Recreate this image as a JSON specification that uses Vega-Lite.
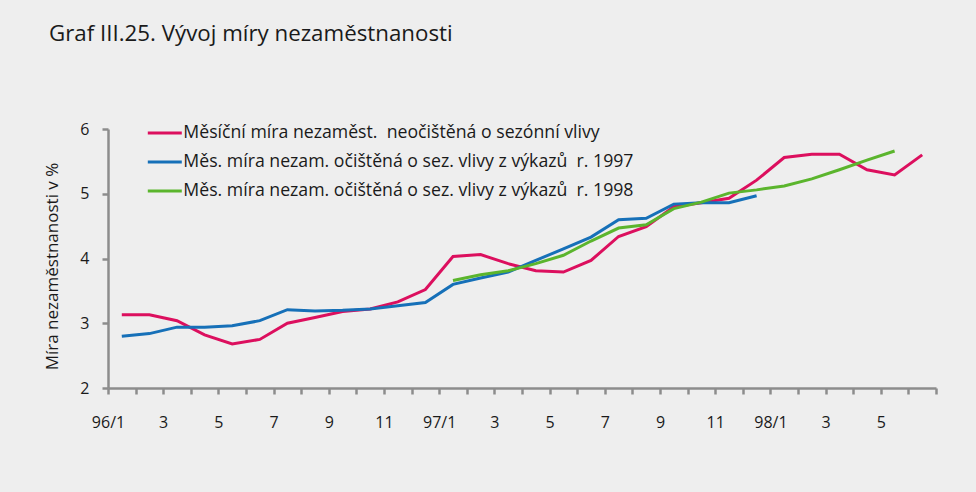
{
  "$schema": "https://vega.github.io/schema/vega-lite/v6.json",
  "autosize": {"type": "none"},
  "width": 828,
  "height": 259,
  "padding": {"left": 108, "top": 129, "right": 40, "bottom": 104},
  "background": "#eeeeee",
  "title": {
    "text": "Graf III.25. Vývoj míry nezaměstnanosti",
    "anchor": "start",
    "frame": "group",
    "dx": -59,
    "offset": 76,
    "font": "Open Sans",
    "fontSize": 22.3,
    "fontWeight": "normal",
    "color": "#1a1a1a"
  },
  "config": {
    "view": {"stroke": null},
    "font": "Open Sans",
    "axis": {
      "domainColor": "#8c8c8c",
      "domainWidth": 2.5,
      "tickColor": "#8c8c8c",
      "tickWidth": 2.5,
      "tickSize": 6,
      "ticks": true,
      "grid": false,
      "labelFont": "Open Sans",
      "labelFontSize": 16,
      "labelColor": "#1a1a1a",
      "titleFont": "Open Sans",
      "titleFontSize": 17,
      "titleFontWeight": "normal",
      "titleColor": "#1a1a1a"
    },
    "legend": {
      "orient": "none",
      "legendX": 46.8,
      "legendY": -6,
      "symbolType": "M-2,0H2",
      "symbolSize": 289,
      "symbolStrokeWidth": 3,
      "labelOffset": 8.5,
      "labelFont": "Open Sans",
      "labelFontSize": 17.7,
      "labelColor": "#1a1a1a",
      "labelLimit": 0,
      "rowPadding": 10,
      "padding": 0
    }
  },
  "data": {
    "values": [
      {"month": "96/1", "series": "Měsíční míra nezaměst.\u00a0 neočištěná o sezónní vlivy", "value": 3.13},
      {"month": "96/2", "series": "Měsíční míra nezaměst.\u00a0 neočištěná o sezónní vlivy", "value": 3.13},
      {"month": "96/3", "series": "Měsíční míra nezaměst.\u00a0 neočištěná o sezónní vlivy", "value": 3.04},
      {"month": "96/4", "series": "Měsíční míra nezaměst.\u00a0 neočištěná o sezónní vlivy", "value": 2.82},
      {"month": "96/5", "series": "Měsíční míra nezaměst.\u00a0 neočištěná o sezónní vlivy", "value": 2.68},
      {"month": "96/6", "series": "Měsíční míra nezaměst.\u00a0 neočištěná o sezónní vlivy", "value": 2.75},
      {"month": "96/7", "series": "Měsíční míra nezaměst.\u00a0 neočištěná o sezónní vlivy", "value": 3.00},
      {"month": "96/8", "series": "Měsíční míra nezaměst.\u00a0 neočištěná o sezónní vlivy", "value": 3.09},
      {"month": "96/9", "series": "Měsíční míra nezaměst.\u00a0 neočištěná o sezónní vlivy", "value": 3.18},
      {"month": "96/10", "series": "Měsíční míra nezaměst.\u00a0 neočištěná o sezónní vlivy", "value": 3.22},
      {"month": "96/11", "series": "Měsíční míra nezaměst.\u00a0 neočištěná o sezónní vlivy", "value": 3.33},
      {"month": "96/12", "series": "Měsíční míra nezaměst.\u00a0 neočištěná o sezónní vlivy", "value": 3.52},
      {"month": "97/1", "series": "Měsíční míra nezaměst.\u00a0 neočištěná o sezónní vlivy", "value": 4.03},
      {"month": "97/2", "series": "Měsíční míra nezaměst.\u00a0 neočištěná o sezónní vlivy", "value": 4.06},
      {"month": "97/3", "series": "Měsíční míra nezaměst.\u00a0 neočištěná o sezónní vlivy", "value": 3.92},
      {"month": "97/4", "series": "Měsíční míra nezaměst.\u00a0 neočištěná o sezónní vlivy", "value": 3.81},
      {"month": "97/5", "series": "Měsíční míra nezaměst.\u00a0 neočištěná o sezónní vlivy", "value": 3.79},
      {"month": "97/6", "series": "Měsíční míra nezaměst.\u00a0 neočištěná o sezónní vlivy", "value": 3.97},
      {"month": "97/7", "series": "Měsíční míra nezaměst.\u00a0 neočištěná o sezónní vlivy", "value": 4.34},
      {"month": "97/8", "series": "Měsíční míra nezaměst.\u00a0 neočištěná o sezónní vlivy", "value": 4.49},
      {"month": "97/9", "series": "Měsíční míra nezaměst.\u00a0 neočištěná o sezónní vlivy", "value": 4.80},
      {"month": "97/10", "series": "Měsíční míra nezaměst.\u00a0 neočištěná o sezónní vlivy", "value": 4.86},
      {"month": "97/11", "series": "Měsíční míra nezaměst.\u00a0 neočištěná o sezónní vlivy", "value": 4.93},
      {"month": "97/12", "series": "Měsíční míra nezaměst.\u00a0 neočištěná o sezónní vlivy", "value": 5.21},
      {"month": "98/1", "series": "Měsíční míra nezaměst.\u00a0 neočištěná o sezónní vlivy", "value": 5.56},
      {"month": "98/2", "series": "Měsíční míra nezaměst.\u00a0 neočištěná o sezónní vlivy", "value": 5.61},
      {"month": "98/3", "series": "Měsíční míra nezaměst.\u00a0 neočištěná o sezónní vlivy", "value": 5.61},
      {"month": "98/4", "series": "Měsíční míra nezaměst.\u00a0 neočištěná o sezónní vlivy", "value": 5.37},
      {"month": "98/5", "series": "Měsíční míra nezaměst.\u00a0 neočištěná o sezónní vlivy", "value": 5.29},
      {"month": "98/6", "series": "Měsíční míra nezaměst.\u00a0 neočištěná o sezónní vlivy", "value": 5.60},
      {"month": "96/1", "series": "Měs. míra nezam. očištěná o sez. vlivy z výkazů\u00a0 r. 1997", "value": 2.80},
      {"month": "96/2", "series": "Měs. míra nezam. očištěná o sez. vlivy z výkazů\u00a0 r. 1997", "value": 2.84},
      {"month": "96/3", "series": "Měs. míra nezam. očištěná o sez. vlivy z výkazů\u00a0 r. 1997", "value": 2.94},
      {"month": "96/4", "series": "Měs. míra nezam. očištěná o sez. vlivy z výkazů\u00a0 r. 1997", "value": 2.94},
      {"month": "96/5", "series": "Měs. míra nezam. očištěná o sez. vlivy z výkazů\u00a0 r. 1997", "value": 2.96},
      {"month": "96/6", "series": "Měs. míra nezam. očištěná o sez. vlivy z výkazů\u00a0 r. 1997", "value": 3.04},
      {"month": "96/7", "series": "Měs. míra nezam. očištěná o sez. vlivy z výkazů\u00a0 r. 1997", "value": 3.21},
      {"month": "96/8", "series": "Měs. míra nezam. očištěná o sez. vlivy z výkazů\u00a0 r. 1997", "value": 3.19},
      {"month": "96/9", "series": "Měs. míra nezam. očištěná o sez. vlivy z výkazů\u00a0 r. 1997", "value": 3.20},
      {"month": "96/10", "series": "Měs. míra nezam. očištěná o sez. vlivy z výkazů\u00a0 r. 1997", "value": 3.22},
      {"month": "96/11", "series": "Měs. míra nezam. očištěná o sez. vlivy z výkazů\u00a0 r. 1997", "value": 3.27},
      {"month": "96/12", "series": "Měs. míra nezam. očištěná o sez. vlivy z výkazů\u00a0 r. 1997", "value": 3.32},
      {"month": "97/1", "series": "Měs. míra nezam. očištěná o sez. vlivy z výkazů\u00a0 r. 1997", "value": 3.60},
      {"month": "97/2", "series": "Měs. míra nezam. očištěná o sez. vlivy z výkazů\u00a0 r. 1997", "value": 3.70},
      {"month": "97/3", "series": "Měs. míra nezam. očištěná o sez. vlivy z výkazů\u00a0 r. 1997", "value": 3.79},
      {"month": "97/4", "series": "Měs. míra nezam. očištěná o sez. vlivy z výkazů\u00a0 r. 1997", "value": 3.97},
      {"month": "97/5", "series": "Měs. míra nezam. očištěná o sez. vlivy z výkazů\u00a0 r. 1997", "value": 4.15},
      {"month": "97/6", "series": "Měs. míra nezam. očištěná o sez. vlivy z výkazů\u00a0 r. 1997", "value": 4.33},
      {"month": "97/7", "series": "Měs. míra nezam. očištěná o sez. vlivy z výkazů\u00a0 r. 1997", "value": 4.60},
      {"month": "97/8", "series": "Měs. míra nezam. očištěná o sez. vlivy z výkazů\u00a0 r. 1997", "value": 4.62},
      {"month": "97/9", "series": "Měs. míra nezam. očištěná o sez. vlivy z výkazů\u00a0 r. 1997", "value": 4.84},
      {"month": "97/10", "series": "Měs. míra nezam. očištěná o sez. vlivy z výkazů\u00a0 r. 1997", "value": 4.86},
      {"month": "97/11", "series": "Měs. míra nezam. očištěná o sez. vlivy z výkazů\u00a0 r. 1997", "value": 4.86},
      {"month": "97/12", "series": "Měs. míra nezam. očištěná o sez. vlivy z výkazů\u00a0 r. 1997", "value": 4.97},
      {"month": "97/1", "series": "Měs. míra nezam. očištěná o sez. vlivy z výkazů\u00a0 r. 1998", "value": 3.66},
      {"month": "97/2", "series": "Měs. míra nezam. očištěná o sez. vlivy z výkazů\u00a0 r. 1998", "value": 3.75},
      {"month": "97/3", "series": "Měs. míra nezam. očištěná o sez. vlivy z výkazů\u00a0 r. 1998", "value": 3.81},
      {"month": "97/4", "series": "Měs. míra nezam. očištěná o sez. vlivy z výkazů\u00a0 r. 1998", "value": 3.92},
      {"month": "97/5", "series": "Měs. míra nezam. očištěná o sez. vlivy z výkazů\u00a0 r. 1998", "value": 4.05},
      {"month": "97/6", "series": "Měs. míra nezam. očištěná o sez. vlivy z výkazů\u00a0 r. 1998", "value": 4.27},
      {"month": "97/7", "series": "Měs. míra nezam. očištěná o sez. vlivy z výkazů\u00a0 r. 1998", "value": 4.47},
      {"month": "97/8", "series": "Měs. míra nezam. očištěná o sez. vlivy z výkazů\u00a0 r. 1998", "value": 4.52},
      {"month": "97/9", "series": "Měs. míra nezam. očištěná o sez. vlivy z výkazů\u00a0 r. 1998", "value": 4.77},
      {"month": "97/10", "series": "Měs. míra nezam. očištěná o sez. vlivy z výkazů\u00a0 r. 1998", "value": 4.87},
      {"month": "97/11", "series": "Měs. míra nezam. očištěná o sez. vlivy z výkazů\u00a0 r. 1998", "value": 5.01},
      {"month": "97/12", "series": "Měs. míra nezam. očištěná o sez. vlivy z výkazů\u00a0 r. 1998", "value": 5.06},
      {"month": "98/1", "series": "Měs. míra nezam. očištěná o sez. vlivy z výkazů\u00a0 r. 1998", "value": 5.12},
      {"month": "98/2", "series": "Měs. míra nezam. očištěná o sez. vlivy z výkazů\u00a0 r. 1998", "value": 5.23},
      {"month": "98/3", "series": "Měs. míra nezam. očištěná o sez. vlivy z výkazů\u00a0 r. 1998", "value": 5.37},
      {"month": "98/4", "series": "Měs. míra nezam. očištěná o sez. vlivy z výkazů\u00a0 r. 1998", "value": 5.52},
      {"month": "98/5", "series": "Měs. míra nezam. očištěná o sez. vlivy z výkazů\u00a0 r. 1998", "value": 5.66}
    ]
  },
  "mark": {"type": "line", "strokeWidth": 3, "strokeJoin": "miter"},
  "encoding": {
    "x": {
      "field": "month",
      "type": "ordinal",
      "scale": {
        "type": "band",
        "paddingInner": 0,
        "paddingOuter": 0,
        "domain": ["96/1","96/2","96/3","96/4","96/5","96/6","96/7","96/8","96/9","96/10","96/11","96/12","97/1","97/2","97/3","97/4","97/5","97/6","97/7","97/8","97/9","97/10","97/11","97/12","98/1","98/2","98/3","98/4","98/5","98/6"]
      },
      "axis": {
        "title": null,
        "tickBand": "extent",
        "labelOffset": -13.8,
        "labelAngle": 0,
        "labelPadding": 20,
        "labelExpr": "split(datum.value, '/')[1] == '1' ? datum.value : (toNumber(split(datum.value, '/')[1]) % 2 == 1 ? split(datum.value, '/')[1] : '')"
      }
    },
    "y": {
      "field": "value",
      "type": "quantitative",
      "scale": {"domain": [2, 6], "nice": false, "zero": false},
      "axis": {
        "title": "Míra nezaměstnanosti v %",
        "values": [2, 3, 4, 5, 6],
        "labelPadding": 13,
        "titlePadding": 18,
        "titleY": 137
      }
    },
    "color": {
      "field": "series",
      "type": "nominal",
      "sort": null,
      "scale": {
        "domain": ["Měsíční míra nezaměst.\u00a0 neočištěná o sezónní vlivy", "Měs. míra nezam. očištěná o sez. vlivy z výkazů\u00a0 r. 1997", "Měs. míra nezam. očištěná o sez. vlivy z výkazů\u00a0 r. 1998"],
        "range": ["#dc0f5e", "#1670b8", "#5bb52d"]
      },
      "legend": {"title": null}
    }
  }
}
